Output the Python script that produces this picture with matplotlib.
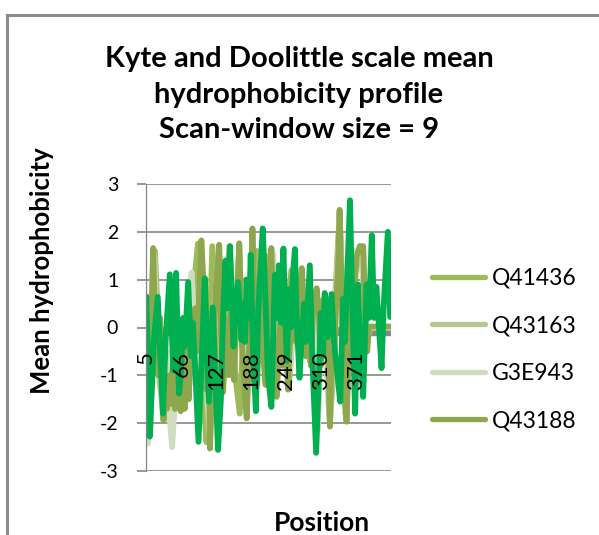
import matplotlib
matplotlib.use("Agg")
import matplotlib.pyplot as plt
from matplotlib.lines import Line2D

plt.rcParams['font.family'] = ['Lato', 'DejaVu Sans']

# Mean hydrophobicity (Kyte & Doolittle, window 9)
q41436_pos = [5, 12, 20, 30, 36, 45, 55, 65, 75, 85, 95, 103, 110, 120, 128, 140, 150, 160, 168, 178,
              188, 198, 206, 213, 222, 230, 240, 250, 258, 266, 274, 282, 290, 298, 306, 315, 325, 335,
              342, 352, 362, 372, 380, 388, 395, 430]
q41436_val = [-1.5, -2.1, 1.6, -1.0, -1.9, -1.2, -1.6, -1.4, -0.5, 0.5, 1.75, -1.2, -2.4, 1.7, -1.3, -0.6,
              1.7, -1.0, -1.8, 1.0, -1.1, 1.6, -0.6, 1.5, -1.4, -0.6, -0.4, 0.3, 1.2, 0.0, -0.5, 0.7,
              -0.7, -0.3, 0.5, 0.6, -1.9, 0.8, 2.4, -1.8, 0.8, 1.5, 1.6, -0.2, 0.0, 0.0]

q43163_pos = [5, 10, 17, 23, 28, 35, 42, 50, 58, 66, 74, 80, 86, 93, 101, 108, 116, 124, 132, 139, 147,
              153, 160, 167, 173, 180, 190, 197, 205, 213, 223, 232, 240, 247, 254, 262, 270, 276, 283,
              292, 302, 309, 316, 325, 332, 342, 354, 362, 372, 383, 390, 395, 430]
q43163_val = [-1.4, -2.2, 1.6, -0.6, -1.1, -1.9, -1.5, -1.3, -1.6, -1.6, -0.6, -1.2, 0.0, -0.3, 1.75,
              -1.0, -2.4, 0.0, 1.7, -1.2, -0.4, 0.2, -0.5, 1.7, -0.3, -1.8, 2.0, -1.1, 1.3, -1.0, 1.6,
              -1.4, 0.4, -0.1, -1.2, 0.2, 0.6, 1.2, -0.5, -0.7, 0.8, -0.7, 0.4, -2.0, -0.8, 2.4, -1.9,
              0.7, 1.6, 1.6, -0.3, 0.0, 0.0]

g3e943_pos = [5, 8, 14, 19, 26, 33, 40, 46, 50, 56, 64, 72, 78, 84, 90, 97, 102, 110, 116, 124, 131, 138,
              146, 152, 160, 167, 174, 180, 186, 190, 197, 206, 213, 220, 226, 232, 240, 248, 255, 262,
              270, 276, 283, 290, 296, 300, 304, 310, 316, 322, 330, 337, 342, 348, 354, 360, 366, 372,
              380, 388, 395, 430]
g3e943_val = [-1.0, -2.42, -0.5, 1.5, -0.8, -1.2, -0.5, -1.9, -2.5, -1.3, -1.6, -0.3, 0.4, 1.15, -0.2,
              -1.4, 1.6, -1.0, -2.3, 0.5, 1.6, -1.2, 0.0, -0.9, 0.5, 1.6, -0.6, -1.7, 0.5, 1.9, -1.0,
              1.65, -0.9, 0.6, 1.55, -1.3, 0.3, -0.6, -0.9, 0.2, 0.4, 1.1, -0.4, 0.2, 0.4, -0.6, -2.15,
              0.0, 0.3, -1.6, -0.4, 1.0, 2.3, 0.3, -1.9, 0.5, 1.6, 1.5, 1.6, 0.0, 0.0, 0.0]

q43188_pos = [5, 10, 17, 22, 26, 29, 35, 38, 41, 45, 48, 52, 55, 58, 62, 65, 69, 72, 76, 79, 83, 86, 90,
              93, 101, 106, 110, 113, 116, 121, 126, 132, 136, 139, 142, 146, 149, 153, 158, 161, 167,
              172, 175, 180, 184, 190, 194, 198, 201, 205, 208, 213, 217, 223, 227, 232, 236, 240, 243,
              247, 252, 255, 261, 266, 270, 276, 280, 283, 287, 292, 296, 302, 306, 309, 313, 316, 320,
              325, 328, 332, 335, 339, 342, 346, 349, 354, 358, 362, 365, 369, 372, 377, 383, 386, 390,
              393, 396, 430]
q43188_val = [-1.6, -1.9, 1.66, -0.5, -1.0, 0.2, -1.95, -1.2, -1.7, -1.0, -1.6, -0.6, -1.7, -0.4, -1.3,
              -1.75, -0.8, -1.7, -0.4, -1.5, 0.1, -0.9, 0.4, -0.5, 1.82, 0.5, -1.3, 0.3, -2.53, -0.6,
              0.8, 1.73, -0.5, -1.35, 0.2, -0.2, -1.0, 0.3, -1.1, 0.0, 1.76, -0.4, -1.0, -1.9, -0.5,
              2.07, 0.5, -1.2, -0.3, 1.2, -0.5, -1.2, 0.5, 1.66, -0.3, -1.45, -0.5, 0.5, -0.8, 0.2,
              -1.3, -0.4, 0.3, -0.3, 0.5, 1.24, 0.2, -0.6, 0.1, -0.8, 0.5, 0.82, 0.2, -0.8, 0.5, -0.3,
              0.6, -2.07, -0.5, -0.9, 0.3, 1.2, 2.46, 0.5, -0.8, -1.97, -0.3, 0.8, 0.3, 1.0, 1.5, 1.7,
              1.7, 0.2, -0.5, 0.0, 0.02, 0.02]

# fifth series, drawn on top but cut off from the legend in the original
extra_pos = [5, 11, 15, 18, 25, 34, 39, 46, 52, 57, 62, 65, 69, 72, 78, 83, 86, 90, 96, 102, 107, 114,
             121, 130, 135, 139, 143, 146, 151, 157, 160, 165, 171, 173, 177, 180, 184, 187, 191, 196,
             200, 203, 208, 213, 217, 223, 227, 229, 233, 236, 240, 244, 247, 250, 254, 257, 260, 264,
             267, 272, 276, 280, 283, 290, 294, 301, 306, 309, 313, 316, 321, 328, 332, 339, 343, 348,
             351, 355, 360, 364, 369, 374, 377, 383, 389, 393, 398, 402, 406, 409, 415, 419, 426, 430]
extra_val = [0.65, -2.28, -1.2, -0.3, 0.64, -1.8, -0.2, 1.11, -0.9, 1.14, -1.38, -1.0, 0.2, -0.4, 0.95,
             -0.6, 0.1, -0.8, -2.39, -0.5, 1.03, -1.55, 0.42, -2.56, -1.5, 0.3, 1.4, 0.4, 1.7, -0.4,
             0.3, 0.95, -0.26, 0.5, -0.3, 1.0, 0.2, 1.52, -0.5, -1.75, 0.3, 1.0, 2.07, 0.5, -1.0,
             -1.66, 0.2, 1.1, 0.2, 1.3, 0.1, 1.65, 0.3, -0.7, 0.8, 0.0, 1.0, 1.64, 0.2, -1.05, -0.2,
             0.5, -0.3, 1.3, -0.5, -2.62, -1.0, 0.3, -0.6, 0.72, -0.2, 0.7, -0.3, -1.1, -1.55, 0.6,
             -0.3, 1.0, 2.66, 0.5, -1.8, 0.9, -0.2, -1.45, 0.9, 0.2, 1.93, 0.2, 0.85, 0.3, -0.85, 0.5,
             2.0, 0.22]

tick_pos = [5, 66, 127, 188, 249, 310, 371]
tick_labels = ['5', '66', '127', '188', '249', '310', '371']
y_ticks = [-3, -2, -1, 0, 1, 2, 3]

W, H = 599, 535
fig = plt.figure(figsize=(W / 100, H / 100), dpi=100)
ax = fig.add_axes([146 / W, 1 - 471 / H, 245 / W, 287 / H])

gray = '#868686'
series = [
    (q41436_pos, q41436_val, '#9bbb59', 'Q41436'),
    (q43163_pos, q43163_val, '#b3c98d', 'Q43163'),
    (g3e943_pos, g3e943_val, '#cfdcbd', 'G3E943'),
    (q43188_pos, q43188_val, '#8ea64e', 'Q43188'),
    (extra_pos, extra_val, '#00b050', '_nolegend_'),
]

# spine moved first: set_position resets the tick label settings
ax.spines['bottom'].set_position(('data', 0))
ax.spines['bottom'].set_visible(False)
ax.spines['top'].set_visible(False)
ax.spines['right'].set_visible(False)
ax.spines['left'].set_color(gray)
ax.spines['left'].set_linewidth(0.9)

ax.axhline(-0.1, color=gray, lw=6, zorder=1.5)
for pos, val, col, lab in series:
    ax.plot(pos, val, color=col, lw=4.2, label=lab,
            solid_capstyle='round', solid_joinstyle='round', zorder=2)

ax.set_xlim(4.5, 431.5)
ax.set_ylim(-3, 3)
ax.set_yticks(y_ticks)
ax.set_yticklabels([str(v) for v in y_ticks])
ax.yaxis.grid(True, color=gray, lw=1.2)
ax.set_axisbelow(True)

ax.set_xticks(tick_pos)
ax.set_xticklabels(tick_labels, rotation=90, va='top', ha='center', fontsize=16)
ax.xaxis.set_zorder(3)  # category labels sit on top of the lines
ax.tick_params(axis='x', length=0, pad=17)
ax.tick_params(axis='y', length=6.5, width=1.2, color=gray, pad=13.5, labelsize=14)

leg = ax.legend(loc='upper left', bbox_to_anchor=(432 / W, 1 - 268 / H),
                bbox_transform=fig.transFigure, frameon=False, fontsize=16.5,
                handlelength=2.3, handletextpad=0.3, labelspacing=1.15,
                borderpad=0, borderaxespad=0)
for h in leg.get_lines():
    h.set_linewidth(3.8)
    h.set_solid_capstyle('round')

title_lines = ['Kyte and Doolittle scale mean', 'hydrophobicity profile', 'Scan-window size = 9']
for i, line in enumerate(title_lines):
    fig.text(299 / W, 1 - (67 + 35.5 * i) / H, line, ha='center', va='baseline',
             fontsize=21, fontweight='bold')

fig.text(42 / W, 1 - 271 / H, 'Mean hydrophobicity', rotation=90, ha='center', va='center',
         fontsize=18.5, fontweight='bold')
fig.text(322 / W, 1 - 531 / H, 'Position', ha='center', va='baseline',
         fontsize=19, fontweight='bold')

# outer chart border (top and left edges are visible in the original crop)
fig.add_artist(Line2D([7 / W, 1], [1 - 15 / H] * 2, transform=fig.transFigure, color='#8c8c8c', lw=2.2))
fig.add_artist(Line2D([7 / W] * 2, [0, 1 - 15 / H], transform=fig.transFigure, color='#8c8c8c', lw=2.2))

fig.savefig('out.png', dpi=100)
